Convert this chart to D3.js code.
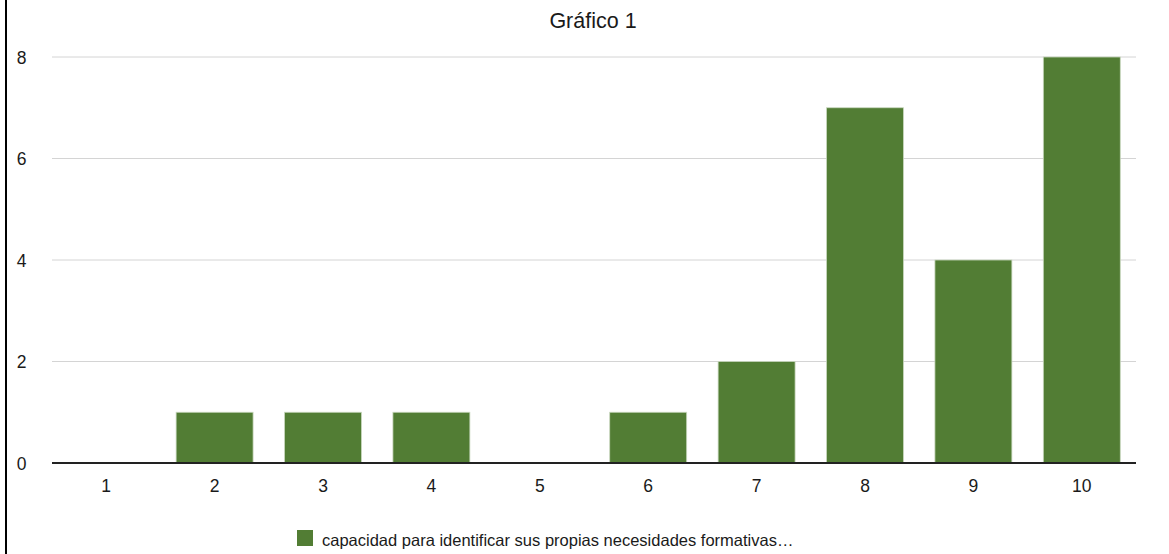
<!DOCTYPE html>
<html><head><meta charset="utf-8">
<script src="https://cdn.jsdelivr.net/npm/d3@7"></script>
<style>body{margin:0;background:#fff}svg{display:block;font-family:"Liberation Sans",Arial,Helvetica,sans-serif}</style>
</head><body><svg id="c" width="1169" height="554"></svg>
<script>
const categories = ["1","2","3","4","5","6","7","8","9","10"];
const values = [0,1,1,1,0,1,2,7,4,8];
const yTicks = [0,2,4,6,8];
const seriesName = "capacidad para identificar sus propias necesidades formativas…";
const title = "Gráfico 1";

const svg = d3.select("#c");
const W = 1169, H = 554;
const m = {left:52, right:33, top:57, bottom:91};
const x = d3.scaleBand().domain(categories).range([m.left, W-m.right]).paddingInner(0.29).paddingOuter(0.145);
const y = d3.scaleLinear().domain([0,8]).range([H-m.bottom, m.top]);

// left border
svg.append("rect").attr("x",5).attr("y",0).attr("width",2).attr("height",H).attr("fill","#000");

svg.append("text").attr("x",593).attr("y",28).attr("text-anchor","middle")
  .attr("font-size",21.5).attr("fill","#1a1a1a").text(title);

// grid
svg.append("g").selectAll("line").data(yTicks.filter(d=>d>0)).join("line")
  .attr("x1",m.left).attr("x2",W-m.right).attr("y1",d=>y(d)).attr("y2",d=>y(d))
  .attr("stroke","#d4d4d4").attr("stroke-width",1);

const yAxis = d3.axisLeft(y).tickValues(yTicks).tickSize(0).tickPadding(0).tickFormat(d3.format("d"));
const ga = svg.append("g").attr("transform",`translate(26.5,0)`).call(yAxis);
ga.select(".domain").remove();
ga.selectAll("text").attr("font-size",17.5).attr("fill","#1a1a1a").attr("dy","0.36em")
  .attr("font-family","Liberation Sans, Arial, sans-serif");

// bars
svg.append("g").selectAll("rect").data(values).join("rect")
  .attr("x",(d,i)=>x(categories[i])).attr("width",x.bandwidth())
  .attr("y",d=>y(d)).attr("height",d=>y(0)-y(d))
  .attr("fill","#527d34").attr("stroke","#c9d8bf").attr("stroke-width",0.8);

// x axis
const xAxis = d3.axisBottom(x).tickSize(0);
const gx = svg.append("g").attr("transform",`translate(0,${y(0)})`).call(xAxis);
gx.select(".domain").remove();
gx.selectAll("text").attr("font-size",17.5).attr("fill","#1a1a1a").attr("y",28.5).attr("dy",0)
  .attr("font-family","Liberation Sans, Arial, sans-serif");
svg.append("line").attr("x1",m.left).attr("x2",W-m.right).attr("y1",y(0)).attr("y2",y(0))
  .attr("stroke","#222").attr("stroke-width",2);

// legend
svg.append("rect").attr("x",297).attr("y",530).attr("width",16).attr("height",16).attr("fill","#527d34");
svg.append("text").attr("x",322).attr("y",546).attr("font-size",16.5).attr("fill","#1a1a1a").text(seriesName);
</script></body></html>
